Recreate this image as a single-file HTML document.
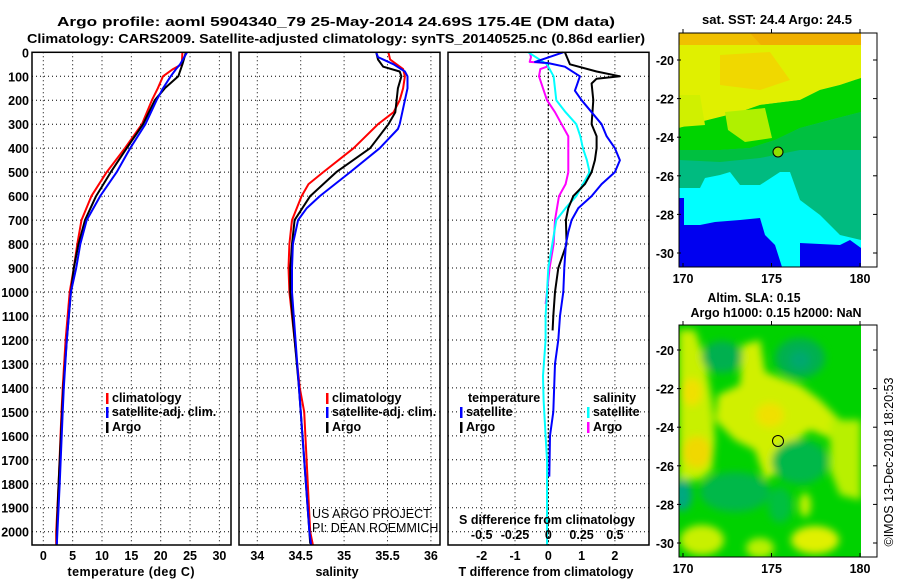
<!DOCTYPE html>
<html><head><meta charset="utf-8"><style>
body{margin:0;background:#fff}
svg{display:block}
text{font-family:"Liberation Sans",sans-serif;font-weight:bold;font-size:12.5px;fill:#000}
.thin{font-weight:normal}
</style></head><body>
<svg id="chart" width="900" height="580" viewBox="0 0 900 580" xmlns="http://www.w3.org/2000/svg">
<defs>
<filter id="blur" x="-50%" y="-50%" width="200%" height="200%"><feGaussianBlur stdDeviation="4"/></filter>
<clipPath id="clipTop"><rect x="679" y="33" width="182" height="234"/></clipPath>
<clipPath id="clipBot"><rect x="679" y="325" width="182" height="232"/></clipPath>
</defs>
<text x="336" y="26" text-anchor="middle" font-size="14" textLength="558" lengthAdjust="spacingAndGlyphs">Argo profile: aoml 5904340_79 25-May-2014 24.69S 175.4E (DM data)</text>
<text x="336" y="43" text-anchor="middle" font-size="14" textLength="618" lengthAdjust="spacingAndGlyphs">Climatology: CARS2009. Satellite-adjusted climatology: synTS_20140525.nc (0.86d earlier)</text>
<g id="panels"></g>

<!-- top map -->
<g>
<text x="777" y="24" text-anchor="middle" textLength="150" lengthAdjust="spacingAndGlyphs">sat. SST: 24.4 Argo: 24.5</text>
<g clip-path="url(#clipTop)">
<rect x="679" y="33" width="182" height="234" fill="#00bb80"/>
<rect x="679" y="33" width="182" height="16" fill="#f0c000"/>
<polygon points="750,33 861,33 861,80 830,75 800,65 770,55" fill="#f0b000"/>
<polygon points="679,45 861,45 861,78 840,85 820,90 800,100 760,105 740,112 700,122 679,128" fill="#e0f000"/>
<polygon points="720,55 770,52 790,80 760,90 720,85" fill="#f0d800"/>
<polygon points="679,128 700,122 740,112 760,105 800,100 820,90 840,85 861,78 861,112 830,120 800,128 775,140 750,148 720,150 700,150 679,150" fill="#00d400"/>
<polygon points="725,112 765,108 772,138 745,142 728,130" fill="#b0f000"/>
<polygon points="679,95 700,95 705,125 679,127" fill="#d0f000"/>
<polygon points="679,150 720,150 750,148 775,140 800,128 861,112 861,150 800,150 760,158 720,162 679,160" fill="#00c040"/>
<polygon points="679,188 700,188 705,178 720,175 730,172 740,185 760,185 780,172 790,172 800,200 820,215 840,235 861,240 861,267 679,267" fill="#00ffff"/>
<polygon points="679,198 684,198 684,225 700,225 715,222 740,220 760,218 765,235 775,245 782,267 679,267" fill="#0000f0"/>
<polygon points="800,243 840,245 850,240 861,248 861,267 800,267" fill="#0000f0"/>
<circle cx="778" cy="152" r="5" fill="#90e000" stroke="#000" stroke-width="1"/>
</g>
<rect x="679" y="33" width="198" height="234" fill="none" stroke="#000" stroke-width="1"/>
<g id="topAxes"></g>
</g>

<!-- bottom map -->
<g>
<text x="754" y="302" text-anchor="middle" textLength="93" lengthAdjust="spacingAndGlyphs">Altim. SLA: 0.15</text>
<text x="776" y="317" text-anchor="middle" textLength="171" lengthAdjust="spacingAndGlyphs">Argo h1000: 0.15 h2000: NaN</text>
<g clip-path="url(#clipBot)">
<rect x="679" y="325" width="182" height="232" fill="#00d200"/>
<g filter="url(#blur)">
<polygon points="679,330 695,330 705,360 712,400 715,440 712,470 700,480 679,480" fill="#c8f000"/>
<ellipse cx="692" cy="392" rx="10" ry="14" fill="#f0e000"/>
<ellipse cx="697" cy="452" rx="14" ry="16" fill="#f0d800"/>
<polygon points="742,345 760,340 765,372 800,385 820,400 840,420 835,440 810,430 790,445 782,470 765,480 755,450 735,440 715,420 718,395 740,385" fill="#d0f000"/>
<ellipse cx="770" cy="415" rx="14" ry="12" fill="#f0e000"/>
<polygon points="830,420 861,420 861,500 840,495 830,470" fill="#b8f000"/>
<ellipse cx="702" cy="540" rx="22" ry="15" fill="#c8f000"/>
<ellipse cx="760" cy="548" rx="14" ry="10" fill="#b8f000"/>
<ellipse cx="815" cy="540" rx="24" ry="14" fill="#e0f000"/>
<ellipse cx="805" cy="505" rx="6" ry="12" fill="#c0f000"/>
<ellipse cx="722" cy="357" rx="20" ry="16" fill="#00b050"/>
<ellipse cx="800" cy="358" rx="25" ry="20" fill="#00b050"/>
<ellipse cx="800" cy="360" rx="10" ry="9" fill="#00a870"/>
<ellipse cx="800" cy="462" rx="28" ry="22" fill="#00b84a"/>
<ellipse cx="735" cy="492" rx="35" ry="20" fill="#00b84a"/>
<ellipse cx="682" cy="495" rx="10" ry="16" fill="#00a880"/>
<ellipse cx="780" cy="505" rx="12" ry="18" fill="#00c040"/>
</g>
<circle cx="778" cy="441" r="5.5" fill="none" stroke="#000" stroke-width="1"/>
</g>
<rect x="679" y="325" width="198" height="232" fill="none" stroke="#000" stroke-width="1"/>
<g id="botAxes"></g>
</g>
<text class="thin" transform="translate(893,462) rotate(-90)" text-anchor="middle" font-size="12">©IMOS 13-Dec-2018 18:20:53</text>
</svg>
<script>
// ---- data ----
const tDepth = [0,50,70,100,150,200,300,400,500,600,700,800,900,1000,1200,1400,1500,1800,2000,2055];
const tClim  = [23.7,23.6,22.1,20.4,19.5,18.5,16.8,13.9,10.8,8.2,6.5,5.8,5.2,4.5,3.8,3.3,3.1,2.6,2.2,2.2];
const tSat   = [24.5,23.3,22.6,21.7,20.4,19.3,17.4,14.8,12.5,9.7,7.4,6.3,5.6,4.7,4.0,3.5,3.3,2.8,2.4,2.3];
const tArgoDepth = [0,50,100,150,200,300,400,500,600,700,800,900,1000,1200,1400,1600,1800,2000,2050];
const tArgo  = [24.3,23.7,23.0,20.7,19.0,17.0,14.2,11.5,9.0,7.1,6.0,5.2,4.7,4.0,3.4,3.0,2.6,2.3,2.3];
const sDepth = [0,30,70,100,150,200,250,300,400,500,550,600,700,800,900,1000,1400,1500,2000,2055];
const sClim  = [35.51,35.53,35.68,35.70,35.68,35.64,35.57,35.39,35.11,34.76,34.59,34.51,34.40,34.37,34.36,34.37,34.49,34.54,34.61,34.64];
const sSatDepth = [0,20,50,80,100,150,200,300,320,400,500,600,650,700,800,900,1000,1400,2000,2055];
const sSat   = [35.37,35.39,35.57,35.70,35.73,35.73,35.70,35.64,35.62,35.41,35.07,34.72,34.57,34.47,34.41,34.40,34.40,34.48,34.60,34.62];
const sArgoDepth = [0,30,60,80,100,150,250,300,400,500,600,700,800,900,1000,1400,2000,2050];
const sArgo  = [35.37,35.39,35.45,35.64,35.66,35.62,35.59,35.51,35.30,34.91,34.61,34.43,34.40,34.38,34.38,34.48,34.60,34.61];
const dtSatDepth = [0,40,45,60,100,140,160,200,250,300,350,400,450,500,550,600,650,700,750,800,900,1000,1100,1200,1300,1500,1600,1770];
const dtSat  = [0.45,-0.4,0.0,0.5,0.95,0.85,0.8,1.0,1.3,1.6,1.75,2.0,2.15,2.0,1.6,1.3,0.9,0.7,0.6,0.53,0.48,0.45,0.35,0.3,0.2,0.15,0.05,0.03];
const dtArgoDepth = [0,50,80,100,110,130,200,300,350,400,450,500,550,600,650,700,800,900,1000,1100,1160];
const dtArgo = [0.5,0.65,1.45,2.15,1.45,1.3,1.35,1.3,1.45,1.45,1.4,1.3,1.1,0.75,0.6,0.53,0.55,0.3,0.2,0.15,0.13];
const dsSatDepth = [0,50,100,200,250,300,350,400,450,500,550,600,650,700,800,900,1000,1100,1200,1350,1450,1600,1700,2000,2055];
const dsSat  = [-0.15,-0.01,0.04,0.06,0.13,0.21,0.24,0.26,0.29,0.31,0.26,0.21,0.13,0.06,0.03,0.0,-0.01,-0.02,-0.02,-0.04,-0.035,-0.02,-0.01,-0.01,-0.01];
const dsArgoDepth = [0,20,40,45,60,70,100,150,200,250,300,350,400,500,550,600,700,800,900,1000,1050];
const dsArgo = [-0.14,-0.13,-0.14,-0.01,-0.01,-0.06,-0.07,-0.04,-0.01,0.05,0.1,0.15,0.15,0.15,0.13,0.08,0.05,0.04,0.01,-0.01,-0.02];
const depthTicks = [0,100,200,300,400,500,600,700,800,900,1000,1100,1200,1300,1400,1500,1600,1700,1800,1900,2000];
const tTicks = [0,5,10,15,20,25,30];
const sTicks = [34,34.5,35,35.5,36];
const dtTicks = [-2,-1,0,1,2];
const dsTicks = [-0.5,-0.25,0,0.25,0.5];
const dsTickLabels = ['-0.5','-0.25','0','0.25','0.5'];
const lonTicks = [170,175,180];
const latTicks = [-20,-22,-24,-26,-28,-30];

// ---- scales ----
const NS='http://www.w3.org/2000/svg';
const Y0=52.3, YB=545;
const yD = d => Y0 + d*0.2397;
const xT = t => 43.3 + t*5.87;
const xS = s => 257.3 + (s-34)*86.8;
const xDT = v => 548.3 + v*33.3;
const xDS = v => 548.3 + v*133.2;
const xLon = l => 683 + (l-170)*17.7;
const yLatTop = l => 60 + (-20-l)*19.3;
const yLatBot = l => 350 + (-20-l)*19.3;

function el(tag, attrs, parent){const e=document.createElementNS(NS,tag);for(const k in attrs)e.setAttribute(k,attrs[k]);parent.appendChild(e);return e;}
function txt(parent,x,y,s,anchor){const t=el('text',{x:x,y:y,'text-anchor':anchor||'start'},parent);t.textContent=s;return t;}
const panels=document.getElementById('panels');

const P=[{x0:32,x1:231,name:'temperature-panel'},{x0:239,x1:440,name:'salinity-panel'},{x0:448,x1:649,name:'difference-panel'}];
const groups=P.map(p=>{const g=el('g',{},panels);return g;});

function grid(g,p,xs,fx){
  depthTicks.forEach(d=>{if(d===0)return;const l=el('line',{x1:p.x0,x2:p.x1,y1:yD(d),y2:yD(d),stroke:'#000','stroke-width':1,'stroke-dasharray':'1,3'},g);});
  xs.forEach(v=>{const x=fx(v);const l=el('line',{x1:x,x2:x,y1:Y0,y2:YB,stroke:'#000','stroke-width':1,'stroke-dasharray':'1,3'},g);});
}
function frame(g,p){const r=el('rect',{x:p.x0,y:Y0,width:p.x1-p.x0,height:YB-Y0,fill:'none',stroke:'#000','stroke-width':1.5},g);}
function line(g,depths,vals,fx,color,name,w){
  const pts=depths.map((d,i)=>fx(vals[i]).toFixed(1)+','+yD(Math.min(d,2055)).toFixed(1)).join(' ');
  const pl=el('polyline',{points:pts,fill:'none',stroke:color,'stroke-width':w||2,'stroke-linejoin':'round'},g);
  
  
}
grid(groups[0],P[0],tTicks,xT);
grid(groups[1],P[1],sTicks,xS);
grid(groups[2],P[2],dtTicks,xDT);
const zl=el('line',{x1:xDT(0),x2:xDT(0),y1:Y0,y2:YB,stroke:'#000','stroke-width':1.2,'stroke-dasharray':'2,2'},groups[2]);



line(groups[0],tDepth,tClim,xT,'#ff0000','temp-climatology-line');
line(groups[0],tArgoDepth,tArgo,xT,'#000000','temp-argo-line');
line(groups[0],tDepth,tSat,xT,'#0000ff','temp-satellite-line');
line(groups[1],sDepth,sClim,xS,'#ff0000','sal-climatology-line');
line(groups[1],sArgoDepth,sArgo,xS,'#000000','sal-argo-line');
line(groups[1],sSatDepth,sSat,xS,'#0000ff','sal-satellite-line');
line(groups[2],dsArgoDepth,dsArgo,xDS,'#ff00ff','sdiff-argo-line');
line(groups[2],dsSatDepth,dsSat,xDS,'#00ffff','sdiff-satellite-line');
line(groups[2],dtArgoDepth,dtArgo,xDT,'#000000','tdiff-argo-line');
line(groups[2],dtSatDepth,dtSat,xDT,'#0000ff','tdiff-satellite-line');
P.forEach((p,i)=>frame(groups[i],p));

// depth labels
depthTicks.forEach(d=>{const t=txt(panels,29,yD(d)+5,String(d),'end');});
// x tick labels
tTicks.forEach(v=>{const t=txt(groups[0],xT(v),560,String(v),'middle');});
sTicks.forEach(v=>{const t=txt(groups[1],xS(v),560,String(v),'middle');});
dtTicks.forEach(v=>{const t=txt(groups[2],xDT(v),560,String(v),'middle');});
dsTicks.forEach((v,i)=>{const t=txt(groups[2],xDS(v),539,dsTickLabels[i],'middle');});
let a;
a=txt(groups[0],131,576,'temperature (deg C)','middle');a.setAttribute('textLength','127');
a=txt(groups[1],337,576,'salinity','middle');
a=txt(groups[2],546,576,'T difference from climatology','middle');a.setAttribute('textLength','175');
a=txt(groups[2],547,524,'S difference from climatology','middle');a.setAttribute('textLength','176');
a=txt(groups[1],312,518,'US ARGO PROJECT');a.setAttribute('class','thin');
a=txt(groups[1],312,532,'PI: DEAN ROEMMICH');a.setAttribute('class','thin');

// legends
function legendEntry(g,x,y,color,label){
  const r=el('rect',{x:x,y:y-9,width:2.5,height:11,fill:color},g);
  
  
  const t=txt(g,x+6,y,label);
  
  
}
legendEntry(groups[0],106,402,'#ff0000','climatology');
legendEntry(groups[0],106,416,'#0000ff','satellite-adj. clim.');
legendEntry(groups[0],106,431,'#000000','Argo');
legendEntry(groups[1],326,402,'#ff0000','climatology');
legendEntry(groups[1],326,416,'#0000ff','satellite-adj. clim.');
legendEntry(groups[1],326,431,'#000000','Argo');
a=txt(groups[2],468,402,'temperature');
a=txt(groups[2],593,402,'salinity');
legendEntry(groups[2],460,416,'#0000ff','satellite');
legendEntry(groups[2],460,431,'#000000','Argo');
legendEntry(groups[2],587,416,'#00ffff','satellite');
legendEntry(groups[2],587,431,'#ff00ff','Argo');

// map axes
function mapAxes(gid,yLat,yTop,yBot){
  const g=document.getElementById(gid);
  lonTicks.forEach(l=>{const x=xLon(l);
    el('line',{x1:x,x2:x,y1:yBot,y2:yBot-4,stroke:'#000'},g);el('line',{x1:x,x2:x,y1:yTop,y2:yTop-4,stroke:'#000'},g);
    const t=txt(g,x,yBot+16,String(l),'middle');});
  latTicks.forEach(l=>{const y=yLat(l);
    el('line',{x1:677,x2:681,y1:y,y2:y,stroke:'#000'},g);el('line',{x1:873,x2:877,y1:y,y2:y,stroke:'#000'},g);
    const t=txt(g,674,y+5,String(l),'end');});
}
mapAxes('topAxes',yLatTop,33,267);
mapAxes('botAxes',yLatBot,325,557);
</script>
</body></html>
